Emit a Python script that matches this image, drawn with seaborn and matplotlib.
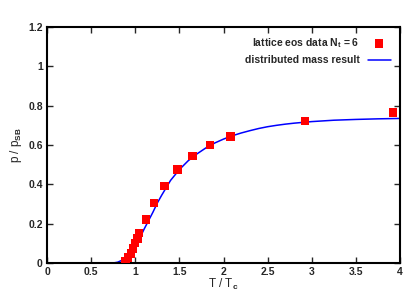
import matplotlib.pyplot as plt
import seaborn as sns

# lattice data points (T/Tc, p/pSB)
lat_t = [0.89, 0.92, 0.95, 0.975, 1.0, 1.025, 1.045, 1.125, 1.21, 1.33, 1.48, 1.65, 1.85, 2.08, 2.92, 3.92]
lat_p = [0.01, 0.028, 0.048, 0.074, 0.10, 0.125, 0.151, 0.222, 0.305, 0.39, 0.475, 0.545, 0.60, 0.643, 0.722, 0.766]

# distributed mass result
fit_t = [0.75, 0.80, 0.85, 0.90, 0.95, 1.00, 1.05, 1.10, 1.15, 1.20, 1.25, 1.30, 1.40, 1.50,
         1.60, 1.70, 1.80, 1.90, 2.00, 2.10, 2.20, 2.30, 2.40, 2.50, 2.60, 2.70, 2.80, 2.90,
         3.00, 3.25, 3.50, 3.75, 4.00]
fit_p = [0.0, 0.004, 0.014, 0.032, 0.056, 0.082, 0.125, 0.172, 0.215, 0.258, 0.305, 0.345, 0.42, 0.475,
         0.52, 0.555, 0.585, 0.61, 0.63, 0.647, 0.661, 0.673, 0.684, 0.693, 0.700, 0.706, 0.711, 0.715,
         0.719, 0.726, 0.730, 0.733, 0.735]

xticks = [0, 0.5, 1, 1.5, 2, 2.5, 3, 3.5, 4]
xticklabels = ['0', '0.5', '1', '1.5', '2', '2.5', '3', '3.5', '4']
yticks = [0, 0.2, 0.4, 0.6, 0.8, 1.0, 1.2]
yticklabels = ['0', '0.2', '0.4', '0.6', '0.8', '1', '1.2']

sns.set_theme(style="ticks")
plt.rcParams['font.family'] = ['Liberation Sans', 'DejaVu Sans']
plt.rcParams['font.weight'] = 'bold'
plt.rcParams['mathtext.fontset'] = 'custom'
plt.rcParams['mathtext.rm'] = 'Liberation Sans:bold'
plt.rcParams['mathtext.it'] = 'Liberation Sans:bold'
plt.rcParams['mathtext.bf'] = 'Liberation Sans:bold'

fig = plt.figure(figsize=(4.15, 2.91), dpi=100)
ax = fig.add_axes([47 / 415, 28 / 291, 353 / 415, 236 / 291])

sns.scatterplot(x=lat_t, y=lat_p, marker='s', s=36, color='#ff0000', edgecolor='none',
                ax=ax, label=r'lattice eos data N$_\mathrm{t}$ = 6', zorder=3)
sns.lineplot(x=fit_t, y=fit_p, color='#0000ff', linewidth=1.1, ax=ax,
             label='distributed mass result', zorder=2)

ax.set_xlim(0, 4)
ax.set_ylim(0, 1.2)
ax.set_xticks(xticks)
ax.set_xticklabels(xticklabels)
ax.set_yticks(yticks)
ax.set_yticklabels(yticklabels)
ax.tick_params(direction='in', top=True, right=True, length=4, width=1, labelsize=7.5, pad=3)
for s in ax.spines.values():
    s.set_linewidth(1.5)
    s.set_color('black')

ax.set_xlabel(r'T / T$_\mathrm{c}$', fontsize=8.5, labelpad=0)
ax.set_ylabel(r'p / p$_\mathrm{SB}$', fontsize=8.5, labelpad=3)

ax.legend(loc='upper right', frameon=False, markerfirst=False, fontsize=7.5,
          handlelength=2.2, borderaxespad=0.5, labelspacing=0.5)

fig.savefig('out.png', dpi=100)
